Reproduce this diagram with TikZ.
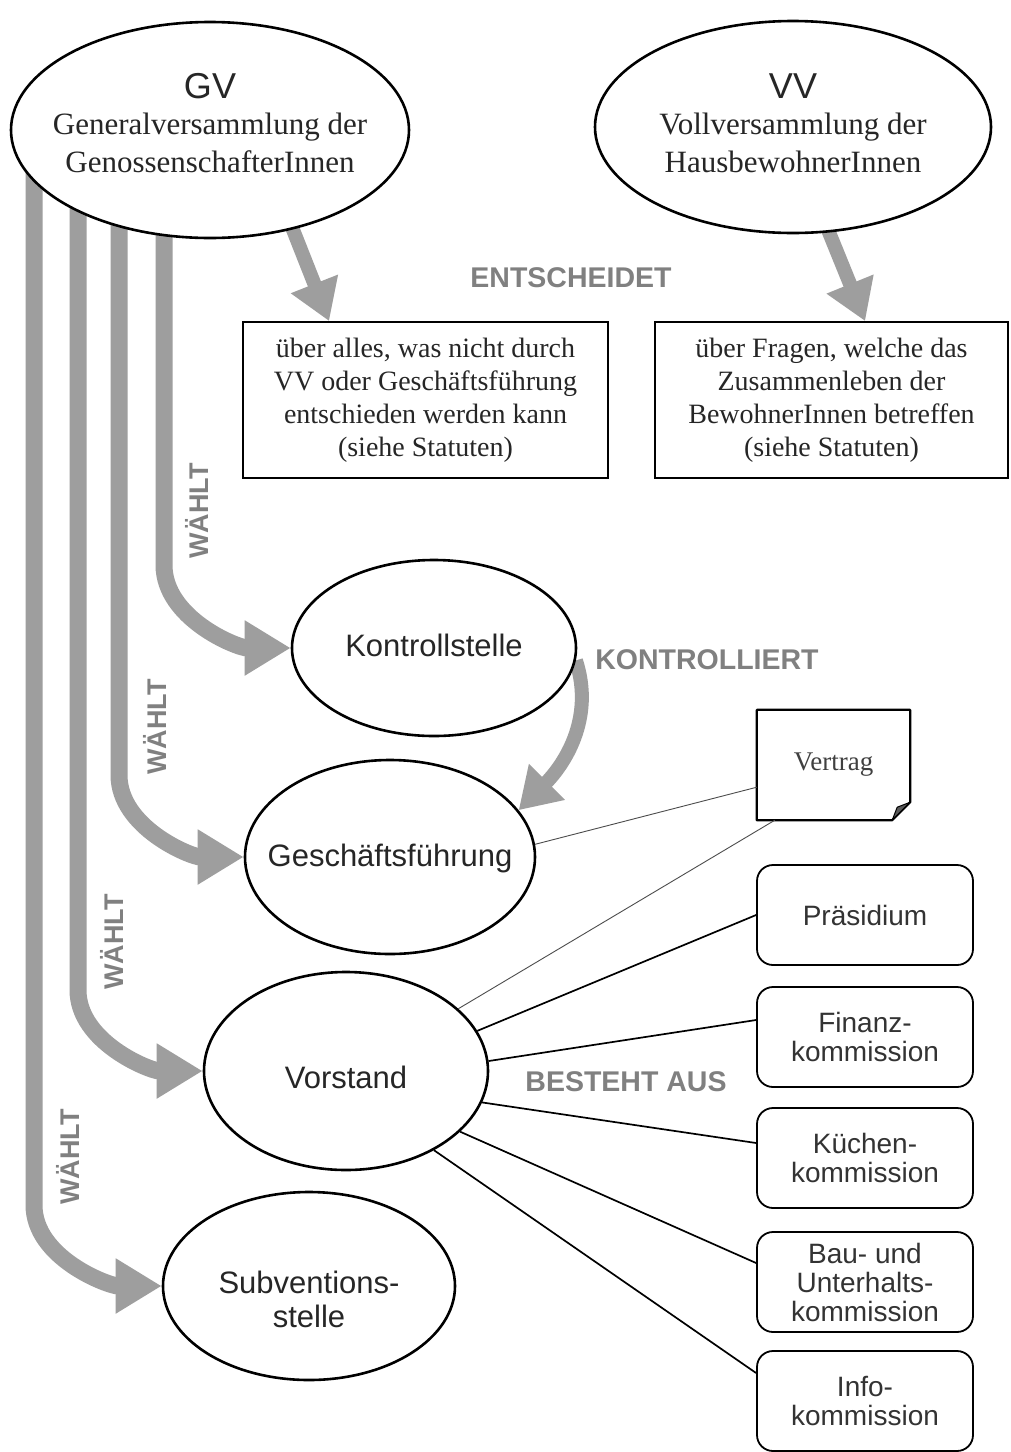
\documentclass[tikz,border=0pt]{standalone}
\usepackage{fontspec}
\setmainfont{Liberation Serif}
\setsansfont{Liberation Sans}
\usetikzlibrary{shapes.geometric,arrows.meta,backgrounds,calc}
\definecolor{arrowgray}{RGB}{158,158,158}
\definecolor{labelgray}{RGB}{128,128,128}
\begin{document}
\begin{tikzpicture}[x=1pt,y=-1pt,
  ell/.style={ellipse,draw,line width=2.6pt,fill=white,inner sep=0pt},
  elltext/.style={font=\sffamily\fontsize{31}{34}\selectfont,text=black!85,align=center},
  titletext/.style={font=\sffamily\fontsize{36}{36}\selectfont,text=black!85},
  serifline/.style={font=\fontsize{31}{31}\selectfont,text=black!85},
  sbox/.style={draw,line width=1.8pt,fill=white,inner sep=0pt,align=center,
    minimum height=156pt,font=\fontsize{28}{33}\selectfont,text=black!85},
  kbox/.style={draw,line width=1.8pt,rounded corners=16pt,fill=white,inner sep=0pt,
    minimum width=216pt,minimum height=100pt,align=center,
    font=\sffamily\fontsize{28}{29}\selectfont,text=black!80},
  lbl/.style={font=\sffamily\bfseries\fontsize{28.5}{28.5}\selectfont,text=labelgray},
  wlbl/.style={font=\sffamily\bfseries\fontsize{27}{27}\selectfont,text=labelgray,rotate=90},
  wahl/.style={draw=arrowgray,line width=17pt,-{Triangle[width=52pt,length=46pt]}},
  ent/.style={draw=arrowgray,line width=14pt,-{Triangle[width=48pt,length=40pt]}},
  thinl/.style={draw=black!70,line width=0.9pt},
  stl/.style={draw=black,line width=1.7pt}]
\useasboundingbox (0,0) rectangle (1010,1452);

% ellipses
\node[ell,minimum width=398pt,minimum height=216pt] (GV) at (210,130) {};
\node[titletext] (GVt) at (210,86) {GV};
\node[serifline] (GVa) at (210,127) {Generalversammlung der};
\node[serifline] (GVb) at (210,162) {GenossenschafterInnen};

\node[ell,minimum width=396pt,minimum height=212pt] (VV) at (793,127) {};
\node[titletext] (VVt) at (793,86) {VV};
\node[serifline] (VVa) at (793,127) {Vollversammlung der};
\node[serifline] (VVb) at (793,162) {HausbewohnerInnen};

\node[ell,minimum width=284pt,minimum height=176pt] (Ks) at (434,648) {};
\node[elltext] (Kst) at (434,645) {Kontrollstelle};

\node[ell,minimum width=290pt,minimum height=194pt] (Gf) at (390,857) {};
\node[elltext] (Gft) at (390,858) {Geschäftsführung};

\node[ell,minimum width=284pt,minimum height=198pt] (Vs) at (346,1071) {};
\node[elltext] (Vst) at (346,1077) {Vorstand};

\node[ell,minimum width=292pt,minimum height=188pt] (Sub) at (309,1286) {};
\node[elltext] (Subt) at (309,1299) {Subventions-\\stelle};

% decision boxes
\node[sbox,minimum width=365pt] (B1) at (425.5,400)
  {über alles, was nicht durch\\VV oder Geschäftsführung\\entschieden werden kann\\(siehe Statuten)};
\node[sbox,minimum width=353pt] (B2) at (831.5,400)
  {über Fragen, welche das\\Zusammenleben der\\BewohnerInnen betreffen\\(siehe Statuten)};

% Vertrag note
\node[minimum width=153pt,minimum height=110pt,inner sep=0pt,
  font=\fontsize{27}{27}\selectfont,text=black!75] (Vt) at (833.5,765) {Vertrag};
\draw[line width=2.2pt,line join=round] (Vt.north west) -- (Vt.north east)
  -- ($(Vt.south east)+(0,-18)$) -- ($(Vt.south east)+(-18,0)$) -- (Vt.south west) -- cycle;
\draw[line width=1pt,fill=black!65,line join=round] ($(Vt.south east)+(0,-18)$)
  -- ($(Vt.south east)+(-13,-13)$) -- ($(Vt.south east)+(-18,0)$) -- cycle;

% commission boxes
\node[kbox] (pr) at (865,915) {Präsidium};
\node[kbox] (fi) at (865,1037) {Finanz-\\kommission};
\node[kbox] (ku) at (865,1158) {Küchen-\\kommission};
\node[kbox] (bu) at (865,1282) {Bau- und\\Unterhalts-\\kommission};
\node[kbox] (in) at (865,1401) {Info-\\kommission};

% thin connectors
\draw[thinl] (Gf.5) -- ($(Vt.south west)+(0,-33)$);
\draw[thinl] (Vs.29) -- ($(Vt.south west)+(18,0)$);
\draw[stl] (Vs.17) -- (pr.west);
\draw[stl] (Vs.4) -- ($(fi.west)+(0,-17)$);
\draw[stl] (Vs.-13) -- ($(ku.west)+(0,-15)$);
\draw[stl] (Vs.-28) -- ($(bu.west)+(0,-19)$);
\draw[stl] (Vs.-42) -- ($(in.west)+(0,-28)$);

% labels
\node[lbl] (le) at (571,278) {ENTSCHEIDET};
\node[lbl] (lk) at (707,660) {KONTROLLIERT};
\node[lbl] (lb) at (626,1082) {BESTEHT AUS};
\node[wlbl] (lw1) at (197,511) {WÄHLT};
\node[wlbl] (lw2) at (155,727) {WÄHLT};
\node[wlbl] (lw3) at (112,942) {WÄHLT};
\node[wlbl] (lw4) at (68,1157) {WÄHLT};

% thick arrows behind the ellipses
\begin{pgfonlayer}{background}
  \fill[white] (0,0) rectangle (1010,1452);
  \coordinate (w1s) at (34,160);
  \coordinate (w2s) at (78,190);
  \coordinate (w3s) at (119,200);
  \coordinate (w4s) at (164,210);
  \coordinate (e1s) at (286,212);
  \coordinate (e2s) at (822,215);
  \draw[wahl] (w1s) -- (34,1205) to[out=-90,in=180,looseness=0.9] (Sub.west);
  \draw[wahl] (w2s) -- (78,990) to[out=-90,in=180,looseness=0.9] (Vs.west);
  \draw[wahl] (w3s) -- (119,775) to[out=-90,in=180,looseness=0.9] (Gf.west);
  \draw[wahl] (w4s) -- (164,565) to[out=-90,in=180,looseness=0.9] (Ks.west);
  \draw[ent] (e1s) -- ($(B1.north west)+(87,0)$);
  \draw[ent] (e2s) -- ($(B2.north west)+(211,0)$);
  \draw[ent] (Ks.-5) to[out=-72,in=45] (Gf.20);
\end{pgfonlayer}
\end{tikzpicture}
\end{document}
